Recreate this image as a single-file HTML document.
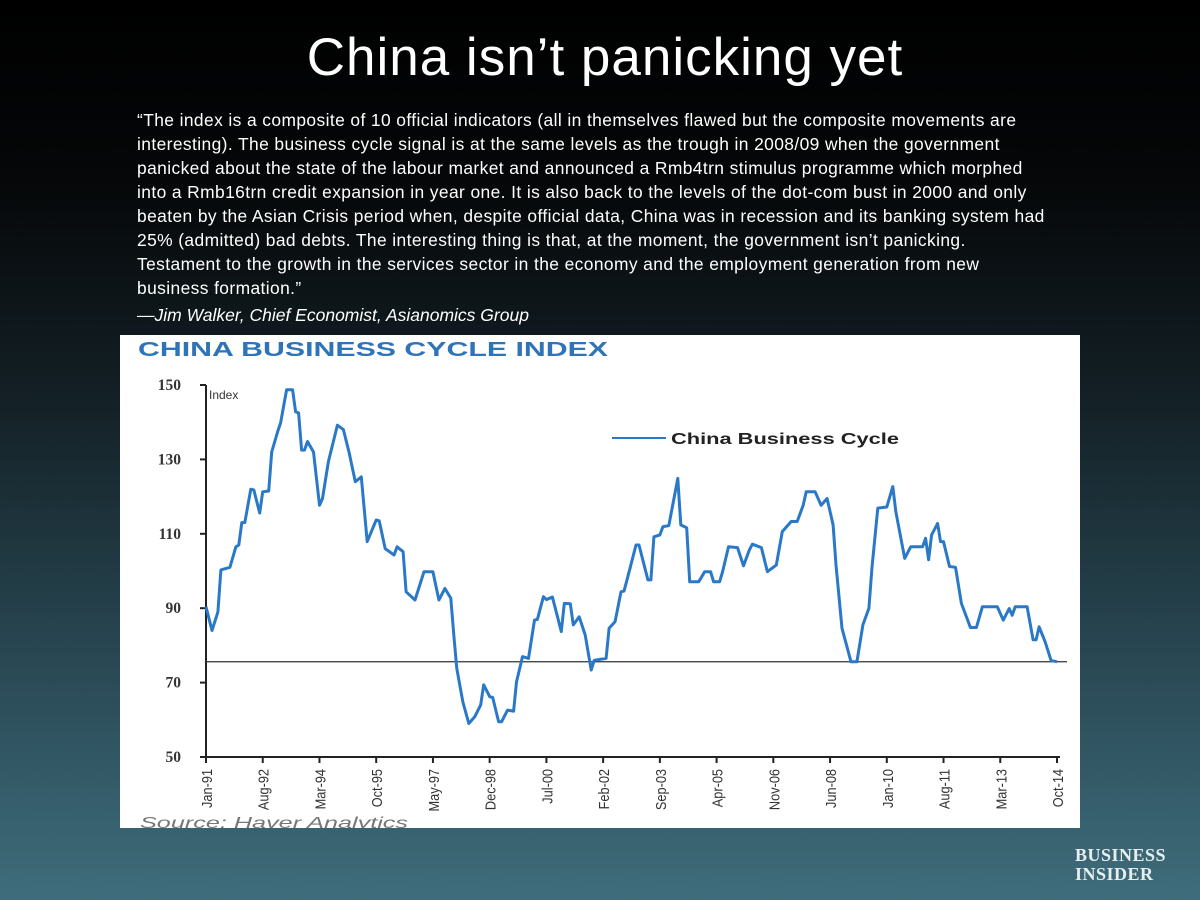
<!DOCTYPE html>
<html><head><meta charset="utf-8">
<style>
html,body{margin:0;padding:0;}
body{width:1200px;height:900px;overflow:hidden;position:relative;
background:linear-gradient(to bottom,#000 0%,#050708 20%,#142127 45%,#2a4a56 75%,#3f6d7c 100%);
font-family:"Liberation Sans",sans-serif;}
#title{position:absolute;top:27px;left:5px;width:1200px;text-align:center;color:#fff;font-size:53px;letter-spacing:1px;}
#quote{position:absolute;top:108px;left:137px;width:1000px;color:#fff;font-size:17.4px;line-height:24px;white-space:nowrap;letter-spacing:0.4px;}
#attr{position:absolute;top:305px;left:137px;color:#fff;font-size:17.5px;font-style:italic;}
#chart{position:absolute;left:120px;top:335px;width:960px;height:493px;background:#fff;}
#logo{position:absolute;left:1075px;top:846px;color:#e8eef0;font-family:"Liberation Serif",serif;font-weight:bold;font-size:18px;line-height:19px;letter-spacing:0.5px;}
</style></head>
<body>
<div id="title">China isn’t panicking yet</div>
<div id="quote">“The index is a composite of 10 official indicators (all in themselves flawed but the composite movements are<br>interesting). The business cycle signal is at the same levels as the trough in 2008/09 when the government<br>panicked about the state of the labour market and announced a Rmb4trn stimulus programme which morphed<br>into a Rmb16trn credit expansion in year one. It is also back to the levels of the dot-com bust in 2000 and only<br>beaten by the Asian Crisis period when, despite official data, China was in recession and its banking system had<br>25% (admitted) bad debts. The interesting thing is that, at the moment, the government isn’t panicking.<br>Testament to the growth in the services sector in the economy and the employment generation from new<br>business formation.”</div>
<div id="attr">—Jim Walker, Chief Economist, Asianomics Group</div>
<div id="chart">
<svg id="svg" width="960" height="493" viewBox="120 335 960 493" xmlns="http://www.w3.org/2000/svg">
<text x="138" y="356" textLength="470" lengthAdjust="spacingAndGlyphs" font-family="Liberation Sans,sans-serif" font-weight="bold" font-size="20" fill="#2f74b8">CHINA BUSINESS CYCLE INDEX</text>
<text x="209" y="399" font-family="Liberation Sans,sans-serif" font-size="12" fill="#333">Index</text>
<line x1="612" y1="438" x2="666" y2="438" stroke="#2a78c8" stroke-width="2"/>
<text x="671" y="444" textLength="228" lengthAdjust="spacingAndGlyphs" font-family="Liberation Sans,sans-serif" font-weight="bold" font-size="16" fill="#222">China Business Cycle</text>
<text x="140" y="828" textLength="268" lengthAdjust="spacingAndGlyphs" font-family="Liberation Sans,sans-serif" font-style="italic" font-size="16" fill="#777">Source: Haver Analytics</text>
<g id="axes"></g>
<g id="series"></g>
</svg>
</div>
<div id="logo">BUSINESS<br>INSIDER</div>
<script>
const yTicks=[50,70,90,110,130,150];
const xTickLabels=["Jan-91","Aug-92","Mar-94","Oct-95","May-97","Dec-98","Jul-00","Feb-02","Sep-03","Apr-05","Nov-06","Jun-08","Jan-10","Aug-11","Mar-13","Oct-14"];
const xTickMonths=[0,19,38,57,76,95,114,133,152,171,190,209,228,247,266,285];
const refLevel=75.6;
const months=[0,2,4,5,8,10,11,12,13,15,16,18,19,21,22,24,25,27,29,30,31,32,33,34,36,38,39,41,44,46,48,50,52,54,57,58,60,63,64,66,67,70,73,76,78,80,82,83,84,86,88,90,92,93,95,96,98,99,101,103,104,106,108,110,111,113,114,116,119,120,122,123,125,127,129,130,134,135,137,139,140,142,144,145,148,149,150,152,153,155,158,159,161,162,165,167,169,170,172,173,175,178,180,182,183,186,188,191,193,196,198,200,201,204,206,208,210,211,213,216,218,220,222,223,225,228,230,231,234,236,240,241,242,243,245,246,247,249,251,253,256,258,260,265,267,269,270,271,275,277,278,279,281,283,285];
const values=[90.4,84,89,100.3,101,106.5,107,113,113,122,121.8,115.6,121.3,121.5,132,137.5,139.8,148.7,148.7,142.8,142.5,132.5,132.5,134.8,132,117.7,119.5,129.4,139.2,138,131.6,124,125.3,107.9,113.7,113.5,106,104.3,106.5,105.2,94.4,92.2,99.8,99.8,92.2,95.3,92.7,82.8,73.8,64.9,59,60.8,64,69.4,66.2,66,59.5,59.5,62.6,62.3,70.2,77,76.5,86.8,87,93.1,92.3,93,83.7,91.3,91.2,85.5,87.7,82.8,73.4,76,76.5,84.6,86.4,94.4,94.6,100.7,107,107,97.6,97.6,109.2,109.7,111.9,112.2,124.9,112.4,111.6,97.1,97.1,99.8,99.8,97.1,97.1,99.8,106.5,106.3,101.4,105.7,107.2,106.3,99.8,101.6,110.6,113.3,113.3,117.7,121.3,121.3,117.7,119.5,112.4,101.6,84.6,75.6,75.6,85.5,90,100.7,116.9,117.2,122.7,116,103.4,106.5,106.5,108.8,103,109.7,112.8,107.9,107.9,101.2,101,91.3,84.8,84.8,90.4,90.4,86.8,89.9,88.1,90.4,90.4,81.5,81.5,85,81,76,75.6];
const NS='http://www.w3.org/2000/svg';
const X0=206,PXM=851/285,Y150=385,PXV=3.72;
function xs(m){return X0+m*PXM;}
function ys(v){return Y150+(150-v)*PXV;}
function mk(tag,attrs,parent){const e=document.createElementNS(NS,tag);for(const k in attrs)e.setAttribute(k,attrs[k]);parent.appendChild(e);return e;}
const axes=document.getElementById('axes'),ser=document.getElementById('series');
let e=mk('line',{x1:xs(0),y1:ys(150),x2:xs(0),y2:ys(50)+1,stroke:'#222','stroke-width':2},axes);


e=mk('line',{x1:xs(0),y1:ys(50),x2:xs(285)+3,y2:ys(50),stroke:'#222','stroke-width':2},axes);


yTicks.forEach(v=>{
  const t=mk('line',{x1:xs(0)-6,y1:ys(v),x2:xs(0),y2:ys(v),stroke:'#222','stroke-width':2},axes);
  
  
  const l=mk('text',{x:181,y:ys(v)+5,'text-anchor':'end','font-family':'Liberation Serif,serif','font-weight':'bold','font-size':15.5,fill:'#333'},axes);
  l.textContent=v;
  
  
});
xTickLabels.forEach((s,i)=>{
  const x=xs(xTickMonths[i]);
  const t=mk('line',{x1:x,y1:ys(50),x2:x,y2:ys(50)+6,stroke:'#222','stroke-width':2},axes);
  
  
  const l=mk('text',{x:0,y:0,'text-anchor':'end','font-family':'Liberation Sans Narrow,Liberation Sans,sans-serif','font-size':15,fill:'#333',transform:`translate(${x+6},${ys(50)+12}) rotate(-90) scale(0.85,1)`},axes);
  l.textContent=s;
  
  
});
e=mk('line',{x1:xs(0),y1:ys(refLevel),x2:xs(285)+10,y2:ys(refLevel),stroke:'#333','stroke-width':1.3},axes);


const d=months.map((m,i)=>(i?'L':'M')+xs(m).toFixed(1)+','+ys(values[i]).toFixed(1)).join('');
e=mk('path',{d:d,fill:'none',stroke:'#2a78c8','stroke-width':3,'stroke-linejoin':'round'},ser);


</script>
</body></html>
